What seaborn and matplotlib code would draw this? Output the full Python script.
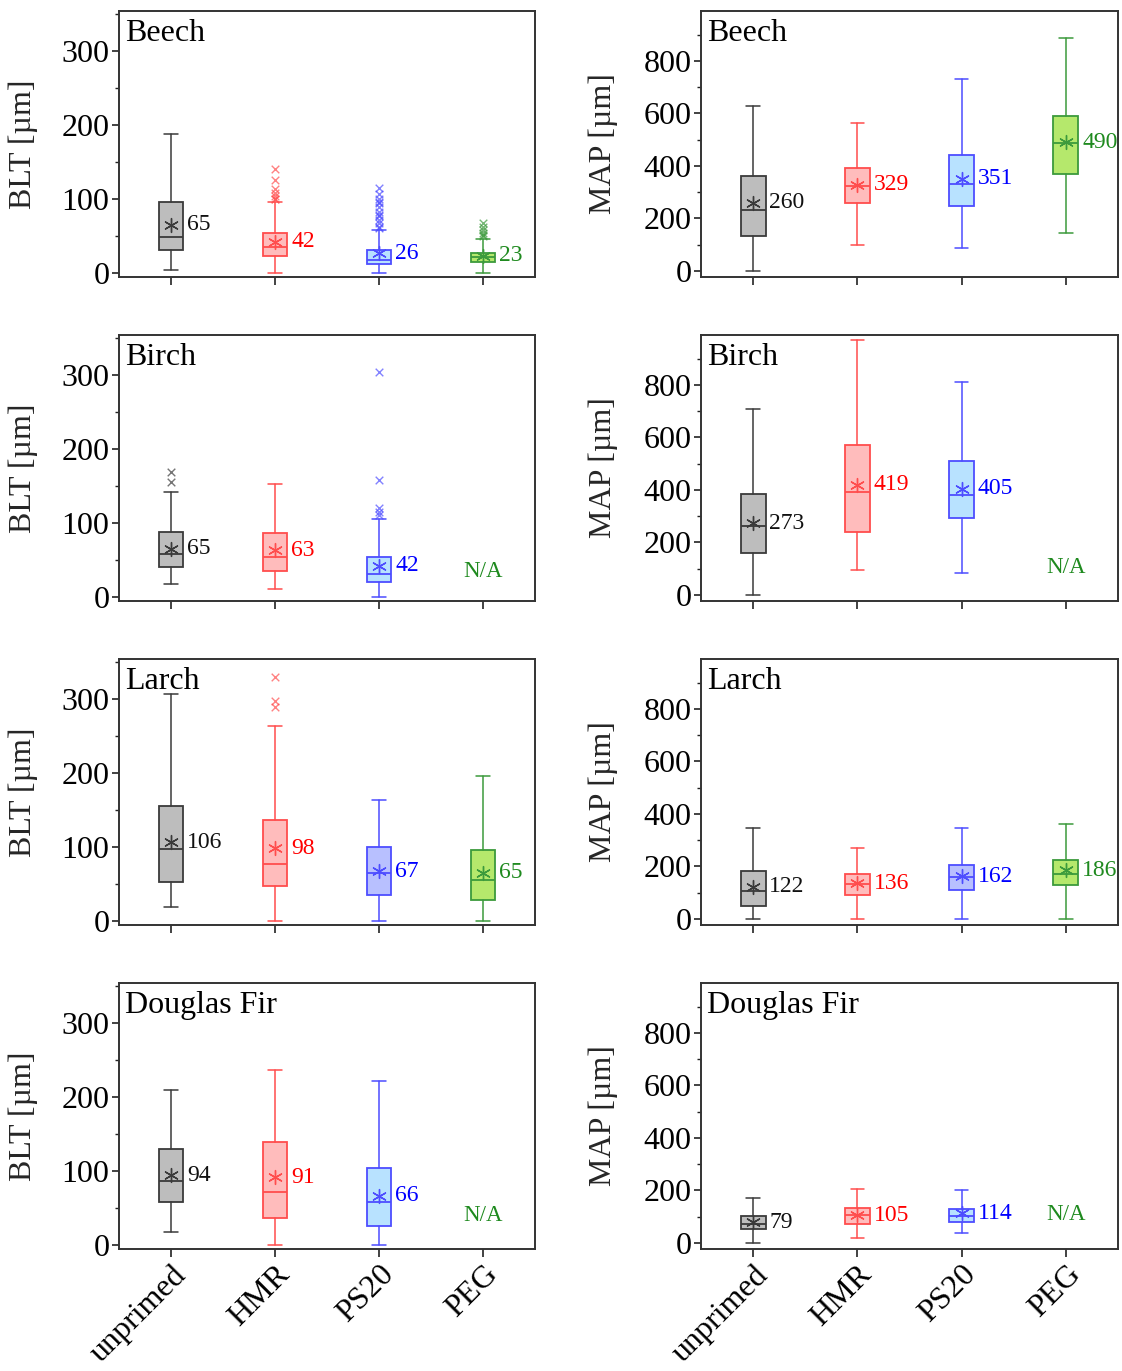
import matplotlib
matplotlib.use("Agg")
import matplotlib.pyplot as plt
import seaborn as sns
import pandas as pd
from matplotlib.ticker import MultipleLocator

# ---------------- data ----------------
GROUPS = ["unprimed", "HMR", "PS20", "PEG"]
SPECIES = ["Beech", "Birch", "Larch", "Douglas Fir"]

# five-number summaries per group: (whisker low, Q1, median, Q3, whisker high); None = N/A
BLT_BEECH = [(4, 31, 48, 95, 187), (0, 22, 34, 53, 96), (0, 11, 17, 31, 58), (0, 14, 21, 27, 46)]
BLT_BIRCH = [(17, 40, 57, 87, 142), (10, 35, 54, 86, 152), (0, 20, 31, 54, 105), None]
BLT_LARCH = [(18, 52, 97, 155, 307), (0, 47, 76, 136, 263), (0, 35, 65, 99, 163), (0, 28, 55, 96, 195)]
BLT_DOUGLAS = [(17, 58, 86, 129, 209), (0, 36, 71, 139, 236), (0, 25, 57, 104, 221), None]

MAP_BEECH = [(0, 132, 231, 360, 629), (99, 259, 322, 391, 563), (87, 246, 331, 443, 730), (146, 369, 488, 590, 888)]
MAP_BIRCH = [(0, 158, 264, 383, 710), (96, 238, 392, 570, 972), (82, 293, 381, 509, 810), None]
MAP_LARCH = [(0, 50, 105, 184, 346), (0, 93, 133, 173, 269), (0, 110, 161, 204, 346), (0, 129, 171, 223, 362)]
MAP_DOUGLAS = [(0, 55, 74, 102, 170), (17, 72, 106, 132, 205), (38, 78, 104, 129, 200), None]

# mean values (marker + label)
BLT_BEECH_MEAN = [65, 42, 26, 23]
BLT_BIRCH_MEAN = [65, 63, 42, None]
BLT_LARCH_MEAN = [106, 98, 67, 65]
BLT_DOUGLAS_MEAN = [94, 91, 66, None]
MAP_BEECH_MEAN = [260, 329, 351, 490]
MAP_BIRCH_MEAN = [273, 419, 405, None]
MAP_LARCH_MEAN = [122, 136, 162, 186]
MAP_DOUGLAS_MEAN = [79, 105, 114, None]

# outliers
BLT_BEECH_FLIERS = [[], [99, 100, 103, 108, 113, 125, 140],
                    [60, 62, 67, 71, 76, 78, 82, 89, 94, 96, 100, 107, 114],
                    [49, 51, 53, 58, 62, 67]]
BLT_BIRCH_FLIERS = [[155, 169], [], [111, 115, 120, 158, 304], []]
BLT_LARCH_FLIERS = [[], [289, 297, 330], [], []]

BLT_PANELS = [(BLT_BEECH, BLT_BEECH_MEAN, BLT_BEECH_FLIERS),
              (BLT_BIRCH, BLT_BIRCH_MEAN, BLT_BIRCH_FLIERS),
              (BLT_LARCH, BLT_LARCH_MEAN, BLT_LARCH_FLIERS),
              (BLT_DOUGLAS, BLT_DOUGLAS_MEAN, [[], [], [], []])]
MAP_PANELS = [(MAP_BEECH, MAP_BEECH_MEAN, [[], [], [], []]),
              (MAP_BIRCH, MAP_BIRCH_MEAN, [[], [], [], []]),
              (MAP_LARCH, MAP_LARCH_MEAN, [[], [], [], []]),
              (MAP_DOUGLAS, MAP_DOUGLAS_MEAN, [[], [], [], []])]

# ---------------- style ----------------
sns.set_theme(style="ticks")
plt.rcParams["font.family"] = ["Liberation Serif", "DejaVu Serif"]

EDGE = ["#3a3a3a", "#ff4d4d", "#4d4dff", "#3c9a3c"]
TEXT = ["#111111", "#ff0000", "#0000ff", "#1f8a1f"]
FILL = ["#bdbdbd", "#ffbcbc", "#b8e2ff", "#b5e86c"]
PS20_FILL_ROW = ["#b8e2ff", "#b8e2ff", "#b8c0ff", "#b8e2ff"]

W, H = 1122, 1371
fig = plt.figure(figsize=(W / 100, H / 100), dpi=100)
row_px = [(11, 277), (335, 601), (659, 925), (983, 1249)]
col_px = [(119, 535), (701, 1118)]


def draw_panel(ax, stats, means, fliers, ylim, major, minor, row, na_y, ylabel, lab_x):
    bxp_stats, pos = [], []
    for i, s in enumerate(stats):
        if s is None:
            continue
        lo, q1, med, q3, hi = s
        bxp_stats.append(dict(whislo=lo, q1=q1, med=med, q3=q3, whishi=hi, fliers=[]))
        pos.append(i)
    arts = ax.bxp(bxp_stats, positions=pos, widths=0.24, patch_artist=True,
                  showfliers=False, showcaps=True, manage_ticks=False)
    for k, i in enumerate(pos):
        fc = PS20_FILL_ROW[row] if i == 2 else FILL[i]
        b = arts["boxes"][k]
        b.set_facecolor(fc)
        b.set_edgecolor(EDGE[i])
        b.set_linewidth(1.3)
        arts["medians"][k].set_color(EDGE[i])
        arts["medians"][k].set_linewidth(1.3)
        for w in arts["whiskers"][2 * k:2 * k + 2]:
            w.set_color(EDGE[i]); w.set_linewidth(1.1)
        for c in arts["caps"][2 * k:2 * k + 2]:
            c.set_color(EDGE[i]); c.set_linewidth(1.1)
            c.set_xdata([i - 0.065, i + 0.065])
    # means
    mdf = pd.DataFrame({"x": [i for i in range(4) if means[i] is not None],
                        "y": [m for m in means if m is not None]})
    for _, r in mdf.iterrows():
        i = int(r["x"])
        sns.scatterplot(x=[i], y=[r["y"]], ax=ax, marker=(6, 2, 0), s=100,
                        color=EDGE[i], linewidth=1.0, zorder=5, legend=False)
        ax.text(i + 0.155, r["y"], f"{int(r['y'])}", color=TEXT[i], fontsize=17,
                ha="left", va="center")
    # fliers
    for i, fl in enumerate(fliers):
        if fl:
            sns.scatterplot(x=[i] * len(fl), y=fl, ax=ax, marker="x", s=30,
                            color=EDGE[i], alpha=0.7, linewidth=1.0, zorder=4, legend=False)
    # N/A
    for i, s in enumerate(stats):
        if s is None:
            ax.text(i, na_y, "N/A", color=TEXT[3], fontsize=16.5, ha="center", va="center")
    ax.set_xlim(-0.5, 3.5)
    ax.set_ylim(*ylim)
    ax.yaxis.set_major_locator(MultipleLocator(major))
    ax.yaxis.set_minor_locator(MultipleLocator(minor))
    ax.set_xticks(range(4))
    ax.tick_params(axis="y", which="major", direction="out", length=5, width=1.2,
                   labelsize=23, pad=2, colors="#222222", labelcolor="black")
    ax.tick_params(axis="y", which="minor", direction="out", length=3, width=1.0, colors="#222222")
    ax.tick_params(axis="x", which="major", direction="out", length=6, width=1.2, colors="#222222",
                   labelsize=23, labelcolor="black", pad=2)
    if row == 3:
        ax.set_xticklabels(GROUPS, rotation=45, ha="right", rotation_mode="anchor")
    else:
        ax.set_xticklabels([])
    for sp in ax.spines.values():
        sp.set_visible(True)
        sp.set_color("#333333")
        sp.set_linewidth(1.4)
    ax.set_ylabel(ylabel, fontsize=23)
    ax.yaxis.set_label_coords(lab_x, 0.5)
    ax.text(0.015, 0.97, SPECIES[row], transform=ax.transAxes, ha="left", va="top",
            fontsize=23, color="black")
    ax.set_xlabel("")
    ax.set_facecolor("white")


NA_BLT = [None, 34, None, 39]
NA_MAP = [None, 104, None, 108]

for row in range(4):
    t, b = row_px[row]
    for col in range(2):
        l, r = col_px[col]
        ax = fig.add_axes([l / W, 1 - b / H, (r - l) / W, (b - t) / H])
        if col == 0:
            s, m, f = BLT_PANELS[row]
            draw_panel(ax, s, m, f, (-6, 354), 100, 50, row, NA_BLT[row], "BLT [µm]", -0.195)
        else:
            s, m, f = MAP_PANELS[row]
            draw_panel(ax, s, m, f, (-23, 990), 200, 100, row, NA_MAP[row], "MAP [µm]", -0.2)

fig.savefig("out.png", dpi=100, facecolor="white")
